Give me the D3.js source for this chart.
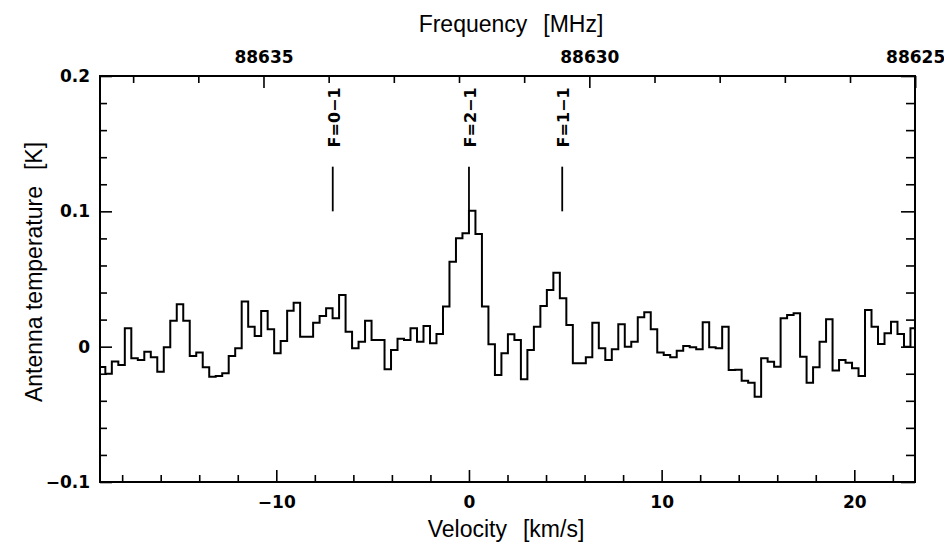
<!DOCTYPE html>
<html>
<head>
<meta charset="utf-8">
<script src="https://cdn.jsdelivr.net/npm/d3@7"></script>
<style>
  body { margin: 0; background: #fff; }
  svg { display: block; }
  .tick text { font-family: "DejaVu Sans", sans-serif; font-weight: bold; font-size: 17px; fill: #000; }
  .tick line { stroke: #000; stroke-width: 1.6; }
  .title { font-family: "Liberation Sans", Arial, sans-serif; font-size: 23px; fill: #000; }
  .hfs-label { font-family: "DejaVu Sans", sans-serif; font-weight: bold; font-size: 16px; fill: #000; }
</style>
</head>
<body>
<svg id="chart" width="944" height="555"></svg>
<script>
// Spectrum: antenna temperature [K] per channel
const antennaTemp = [
  -0.015, -0.020, -0.011, -0.0135, 0.0136, -0.0086, -0.0098, -0.0037, -0.0079, -0.0185,
  -0.0005, 0.0192, 0.0313, 0.0192, -0.0069, -0.0044, -0.0153, -0.0222, -0.0217, -0.0197,
  -0.0069, -0.0012, 0.0333, 0.0148, 0.0079, 0.0264, 0.0128, -0.0049, 0.0042, 0.0266,
  0.0325, 0.0074, 0.0074, 0.0177, 0.0227, 0.0284, 0.021, 0.0382, 0.0111, -0.0012,
  0.0037, 0.0192, 0.005, 0.005, -0.0167, -0.0024, 0.0058, 0.005, 0.0136, 0.0037,
  0.0153, 0.0025, 0.0094, 0.0296, 0.0628, 0.0801, 0.0838, 0.1005, 0.0833, 0.0296,
  0.0018, -0.0209, -0.0049, 0.0091, 0.0049, -0.0241, -0.0024, 0.0148, 0.0301, 0.0419,
  0.0547, 0.0358, 0.016, -0.0123, -0.0123, -0.0079, 0.0177, -0.0012, -0.0098, -0.002,
  0.0165, 0.0, 0.0037, 0.0217, 0.0254, 0.0128, -0.0044, -0.0061, -0.0079, -0.003,
  0.0005, -0.0005, -0.002, 0.018, -0.0005, -0.0012, 0.0148, -0.0172, -0.017, -0.0251,
  -0.0266, -0.037, -0.0086, -0.0111, -0.0148, 0.021, 0.0234, 0.0247, -0.0074, -0.0266,
  -0.0153, 0.0037, 0.0202, -0.0177, -0.0098, -0.0118, -0.016, -0.0217, 0.0271, 0.0148,
  0.002, 0.0099, 0.0185, 0.0094, 0.0, 0.0136
];
const firstChannelStart = -19.21; // km/s, left edge of first channel
const channelWidth = 0.337;       // km/s

const velocityRange = [-19.15, 23.15];
const velocityLabels = [-10, 0, 10, 20];
const velocityMinor = [-18, -16, -14, -12, -8, -6, -4, -2, 2, 4, 6, 8, 12, 14, 16, 18, 22];

const tempRange = [-0.1, 0.2];
const tempLabels = [-0.1, 0, 0.1, 0.2];
const tempMinor = [-0.08, -0.06, -0.04, -0.02, 0.02, 0.04, 0.06, 0.08, 0.12, 0.14, 0.16, 0.18];

const freqLabels = [88635, 88630, 88625];
const freqMinor = [88626, 88627, 88628, 88629, 88631, 88632, 88633, 88634, 88636, 88637];
const restFreq = 88631.847;    // MHz, F=2-1
const lightSpeed = 299792.458; // km/s

// hyperfine components
const hfsNames = ['F=0\u22121', 'F=2\u22121', 'F=1\u22121'];
const hfsVelocity = [-7.07, 0, 4.84];
const hfsMarkTop = 0.133;
const hfsMarkBottom = 0.1;
const hfsLabelCenter = 0.1694;

const margin = { top: 76, right: 29, bottom: 73, left: 100 };
const svg = d3.select('#chart');
const width = +svg.attr('width') - margin.left - margin.right;
const height = +svg.attr('height') - margin.top - margin.bottom;
const g = svg.append('g').attr('transform', `translate(${margin.left},${margin.top})`);

const x = d3.scaleLinear().domain(velocityRange).range([0, width]);
const y = d3.scaleLinear().domain(tempRange).range([height, 0]);
const toFreq = v => restFreq * (1 - v / lightSpeed);
const xf = d3.scaleLinear().domain(velocityRange.map(toFreq)).range([0, width]);

const MAJOR = 12, MINOR = 7;

function addAxis(axisFn, scale, ticks, size, labelled, fmt, transform, pad) {
  const a = axisFn(scale).tickValues(ticks).tickSize(-size).tickPadding(pad || 0);
  a.tickFormat(labelled ? fmt : () => '');
  const sel = g.append('g').attr('transform', transform || null).call(a);
  sel.select('.domain').remove();
  return sel;
}

const tempFmt = d => d === 0 ? '0' : d3.format('.1f')(d);

// bottom: velocity
addAxis(d3.axisBottom, x, velocityMinor, MINOR, false, null, `translate(0,${height})`);
addAxis(d3.axisBottom, x, velocityLabels, MAJOR, true, d3.format('d'), `translate(0,${height})`, 14);
// top: frequency
addAxis(d3.axisTop, xf, freqMinor, MINOR, false);
addAxis(d3.axisTop, xf, freqLabels, MAJOR, true, d3.format('d'), null, 13);
// left / right: temperature
addAxis(d3.axisLeft, y, tempMinor, MINOR, false);
addAxis(d3.axisLeft, y, tempLabels, MAJOR, true, tempFmt, null, 10);
addAxis(d3.axisRight, y, tempMinor, MINOR + 2, false, null, `translate(${width},0)`);
addAxis(d3.axisRight, y, tempLabels, MAJOR + 2, false, null, `translate(${width},0)`);

// frame
g.append('rect')
  .attr('width', width).attr('height', height)
  .attr('fill', 'none').attr('stroke', '#000').attr('stroke-width', 2);

// spectrum
g.append('clipPath').attr('id', 'plot-clip')
  .append('rect').attr('width', width).attr('height', height);

const steps = antennaTemp.map((t, i) => [firstChannelStart + i * channelWidth, t]);
steps.push([firstChannelStart + antennaTemp.length * channelWidth, antennaTemp[antennaTemp.length - 1]]);

const line = d3.line()
  .x(d => x(d[0]))
  .y(d => y(d[1]))
  .curve(d3.curveStepAfter);

g.append('path')
  .datum(steps)
  .attr('clip-path', 'url(#plot-clip)')
  .attr('fill', 'none')
  .attr('stroke', '#000')
  .attr('stroke-width', 2)
  .attr('stroke-linejoin', 'miter')
  .attr('d', line);

// hyperfine markers
const hfs = g.append('g');
hfsVelocity.forEach((v, i) => {
  hfs.append('line')
    .attr('x1', x(v)).attr('x2', x(v))
    .attr('y1', y(hfsMarkTop)).attr('y2', y(hfsMarkBottom))
    .attr('stroke', '#000').attr('stroke-width', 1.8);
  hfs.append('text')
    .attr('class', 'hfs-label')
    .attr('text-anchor', 'middle')
    .attr('transform', `translate(${x(v) + 7},${y(hfsLabelCenter)}) rotate(-90)`)
    .text(hfsNames[i]);
});

// axis titles
const topTitle = svg.append('text').attr('class', 'title')
  .attr('x', 511).attr('y', 32).attr('text-anchor', 'middle');
topTitle.append('tspan').text('Frequency');
topTitle.append('tspan').attr('dx', 16).text('[MHz]');

const bottomTitle = svg.append('text').attr('class', 'title')
  .attr('x', 506).attr('y', 537).attr('text-anchor', 'middle');
bottomTitle.append('tspan').text('Velocity');
bottomTitle.append('tspan').attr('dx', 16).text('[km/s]');

const leftTitle = svg.append('text').attr('class', 'title')
  .attr('text-anchor', 'middle')
  .attr('transform', 'translate(42,272) rotate(-90)');
leftTitle.append('tspan').text('Antenna temperature');
leftTitle.append('tspan').attr('dx', 16).text('[K]');
</script>
</body>
</html>
